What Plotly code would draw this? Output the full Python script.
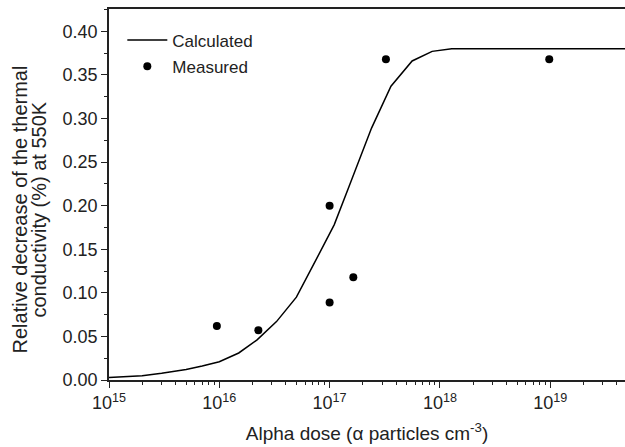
import plotly.graph_objects as go

calc_x = [1e15, 2e15, 3e15, 5e15, 7e15, 1e16, 1.5e16, 2.2e16, 3.3e16, 5e16, 7.4e16,
          1.1e17, 1.5e17, 1.9e17, 2.4e17, 3.6e17, 5.6e17, 8.5e17, 1.28e18, 5e19]
calc_y = [0.003, 0.005, 0.0077, 0.012, 0.016, 0.021, 0.031, 0.046, 0.067, 0.095, 0.136,
          0.178, 0.222, 0.256, 0.289, 0.337, 0.366, 0.377, 0.380, 0.380]

meas_x = [9.5e15, 2.26e16, 1.0e17, 1.0e17, 1.64e17, 3.24e17, 9.8e18]
meas_y = [0.062, 0.057, 0.089, 0.200, 0.118, 0.368, 0.368]

x_tickvals = [1e15, 1e16, 1e17, 1e18, 1e19]
x_ticktext = ["10<sup>15</sup>", "10<sup>16</sup>", "10<sup>17</sup>", "10<sup>18</sup>", "10<sup>19</sup>"]
y_tickvals = [0.0, 0.05, 0.10, 0.15, 0.20, 0.25, 0.30, 0.35, 0.40]

x_minor = [float(m) * 10.0 ** e for e in range(15, 20) for m in range(2, 10)]
y_minor = [0.025 + 0.05 * i for i in range(9)]

y_title_lines = ["Relative decrease of the thermal", "conductivity (%) at 550K"]
x_title = "Alpha dose (\u03b1 particles cm<sup>-3</sup>)"

FONT = "Liberation Sans, Arial, sans-serif"
INK = "#222222"

fig = go.Figure()
fig.add_trace(go.Scatter(x=calc_x, y=calc_y, mode="lines", name="Calculated",
                         legendgroup="a", line=dict(color="black", width=1.5)))
fig.add_trace(go.Scatter(x=meas_x, y=meas_y, mode="markers", name="Measured",
                         legendgroup="b", marker=dict(color="black", size=8)))

fig.update_layout(
    width=625, height=447,
    margin=dict(l=109, r=0, t=9, b=67),
    paper_bgcolor="white", plot_bgcolor="white",
    font=dict(family=FONT, size=18, color=INK),
    showlegend=True,
    legend=dict(x=0.0258, y=0.9635, xanchor="left", yanchor="top",
                bgcolor="rgba(0,0,0,0)", font=dict(size=17, family=FONT, color=INK),
                itemwidth=40, traceorder="grouped", tracegroupgap=1),
)
fig.update_xaxes(
    type="log", range=[15, 19.678],
    tickvals=x_tickvals, ticktext=x_ticktext,
    ticks="outside", ticklen=6, tickwidth=1.2, tickcolor=INK,
    minor=dict(tickvals=x_minor, ticks="outside", ticklen=3, tickwidth=1, tickcolor=INK),
    showline=True, linecolor=INK, linewidth=1.5, mirror=True,
    showgrid=False, zeroline=False,
    tickfont=dict(size=18, family=FONT, color=INK),
    title=dict(text=x_title, standoff=14,
               font=dict(size=19, family=FONT, color=INK)),
)
fig.update_yaxes(
    range=[0, 0.4256],
    tickvals=y_tickvals, tickformat=".2f",
    ticks="outside", ticklen=6, tickwidth=1.2, tickcolor=INK,
    minor=dict(tickvals=y_minor, ticks="outside", ticklen=3, tickwidth=1, tickcolor=INK),
    showline=True, linecolor=INK, linewidth=1.5, mirror=False,
    showgrid=False, zeroline=False,
    tickfont=dict(size=18, family=FONT, color=INK),
)

for txt, px in zip(y_title_lines, [19, 38]):
    fig.add_annotation(text=txt, xref="paper", yref="paper", x=0, y=0.5,
                       xshift=px - 109, yshift=-15, textangle=-90,
                       xanchor="center", yanchor="middle", showarrow=False,
                       font=dict(size=20, family=FONT, color=INK))

fig.write_html("out.html")
